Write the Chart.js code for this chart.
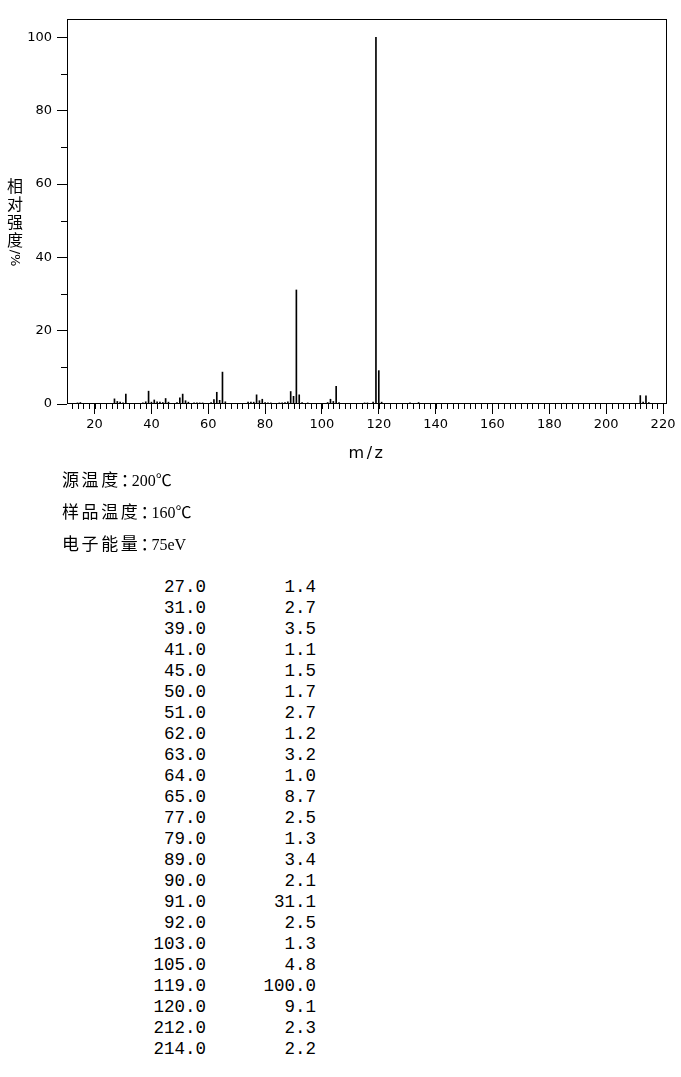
<!DOCTYPE html>
<html lang="zh">
<head>
<meta charset="UTF-8">
<title>质谱图</title>
<script src="https://cdn.jsdelivr.net/npm/chart.js@4"></script>
<style>
  * { box-sizing: border-box; margin: 0; padding: 0; }
  body { width: 681px; height: 1077px; background: #fff; color: #000; position: relative; overflow: hidden; }
  #wrap { position: absolute; left: 0; top: 0; width: 681px; height: 470px; }
  .ylab { position: absolute; left: 6px; top: 176px; width: 18px; text-align: center;
          font: 16px/18px "Noto Sans CJK SC", sans-serif; }
  .ylab .rot { display: block; height: 20px; transform: rotate(90deg); transform-origin: 50% 50%;
               font: 13px/20px "DejaVu Sans", sans-serif; white-space: nowrap; margin-left: -2px; width: 22px; }
  .xlab { position: absolute; left: 317px; width: 100px; top: 443px; text-align: center;
          font: 16px/20px "DejaVu Sans", sans-serif; letter-spacing: 2.5px; }
  .cond { position: absolute; left: 62px; white-space: nowrap; height: 20px; }
  .cond .k { font: 17px/20px "Noto Sans CJK SC", sans-serif; letter-spacing: 2.6px; }
  .cond .c { display: inline-block; width: 11px; font: 17px/20px "Noto Sans CJK SC", sans-serif; }
  .cond .v { font: 16px/20px "Liberation Serif", "Noto Sans CJK SC", serif; }
  table { position: absolute; left: 140px; top: 577px; border-collapse: collapse;
          font: 17.5px/21px "Liberation Mono", monospace; }
  td { padding: 0; text-align: right; height: 21px; }
  td.a { width: 66px; }
  td.b { width: 110px; }
</style>
</head>
<body>
<div id="wrap"><canvas id="c" width="681" height="470"></canvas></div>
<div class="ylab">相<br>对<br>强<br>度<span class="rot">/%</span></div>
<div class="xlab">m/z</div>
<div class="cond" style="top:469px"><span class="k">源温度</span><span class="c">：</span><span class="v">200℃</span></div>
<div class="cond" style="top:501px"><span class="k">样品温度</span><span class="c">：</span><span class="v">160℃</span></div>
<div class="cond" style="top:533px"><span class="k">电子能量</span><span class="c">：</span><span class="v">75eV</span></div>
<table id="peaks"></table>

<script>
// ---------- data ----------

// listed peaks (m/z, relative intensity %)
const tableMz  = [27, 31, 39, 41, 45, 50, 51, 62, 63, 64, 65, 77, 79, 89, 90, 91, 92, 103, 105, 119, 120, 212, 214];
const tableInt = [1.4, 2.7, 3.5, 1.1, 1.5, 1.7, 2.7, 1.2, 3.2, 1.0, 8.7, 2.5, 1.3, 3.4, 2.1, 31.1, 2.5, 1.3, 4.8, 100.0, 9.1, 2.3, 2.2];

// small unlisted peaks
const minorMz  = [14, 15, 28, 29, 30, 37, 38, 40, 42, 43, 44, 46, 49, 52, 53, 55, 56, 57, 58, 61, 66, 74, 75, 76, 78, 80, 81, 82, 85, 86, 87, 88, 93, 95, 102, 104, 106, 115, 116, 118, 121, 131, 134, 183, 185, 213, 215];
const minorInt = [0.3, 0.4, 0.7, 0.5, 0.3, 0.3, 0.6, 0.5, 0.6, 0.5, 0.4, 0.5, 0.4, 0.9, 0.5, 0.3, 0.3, 0.3, 0.3, 0.4, 0.6, 0.5, 0.5, 0.5, 0.9, 0.4, 0.3, 0.3, 0.3, 0.3, 0.4, 0.6, 0.4, 0.3, 0.4, 0.7, 0.4, 0.3, 0.3, 0.5, 0.5, 0.3, 0.4, 0.2, 0.2, 0.5, 0.4];

const xTicks = [20, 40, 60, 80, 100, 120, 140, 160, 180, 200, 220];
const yTicks = [0, 20, 40, 60, 80, 100];
const xMinorStep = 2;
const yMinorStep = 10;

// ---------- table ----------

document.getElementById('peaks').innerHTML = tableMz.map((m, i) =>
  `<tr><td class="a">${m.toFixed(1)}</td><td class="b">${tableInt[i].toFixed(1)}</td></tr>`).join('');

// ---------- chart ----------

const points = tableMz.map((m, i) => ({ x: m, y: tableInt[i] }))
  .concat(minorMz.map((m, i) => ({ x: m, y: minorInt[i] })))
  .sort((a, b) => a.x - b.x);

const frame = {
  id: 'frame',
  afterDraw(chart) {
    const { ctx, chartArea: a, scales: { x, y } } = chart;
    ctx.save();
    ctx.strokeStyle = '#000';
    ctx.lineWidth = 1;
    ctx.strokeRect(Math.round(a.left) + 0.5, Math.round(a.top) + 0.5,
                   Math.round(a.right - a.left) - 1, Math.round(a.bottom - a.top) - 1);
    ctx.beginPath();
    // minor ticks
    for (let v = Math.ceil(x.min / xMinorStep) * xMinorStep; v <= x.max; v += xMinorStep) {
      const px = Math.round(x.getPixelForValue(v)) + 0.5;
      ctx.moveTo(px, a.bottom); ctx.lineTo(px, a.bottom + 5);
    }
    for (let v = yMinorStep; v < y.max; v += 2 * yMinorStep) {
      const py = Math.round(y.getPixelForValue(v)) + 0.5;
      ctx.moveTo(a.left, py); ctx.lineTo(a.left - 6, py);
    }
    ctx.stroke();
    ctx.restore();
  }
};

const tickFont = { family: 'DejaVu Sans', size: 13 };

new Chart(document.getElementById('c'), {
  type: 'bar',
  data: {
    datasets: [{
      data: points,
      backgroundColor: '#000',
      barThickness: 1,
      grouped: false,
    }],
  },
  options: {
    responsive: false,
    animation: false,
    devicePixelRatio: 1,
    layout: { padding: { left: 0, right: 14, top: 19, bottom: 0 } },
    plugins: { legend: { display: false }, tooltip: { enabled: false } },
    scales: {
      x: {
        type: 'linear',
        offset: false,
        min: 10.3,
        max: 221.4,
        afterBuildTicks: s => { s.ticks = xTicks.map(v => ({ value: v })); },
        afterFit: s => { s.height = 66; },
        grid: { drawOnChartArea: false, tickLength: 10, color: '#000', offset: false },
        border: { display: false },
        ticks: { color: '#000', font: tickFont, padding: 3, maxRotation: 0, autoSkip: false },
      },
      y: {
        min: 0,
        max: 105,
        afterBuildTicks: s => { s.ticks = yTicks.map(v => ({ value: v })); },
        afterFit: s => { s.width = 67; },
        grid: { drawOnChartArea: false, tickLength: 10, color: '#000' },
        border: { display: false },
        ticks: { color: '#000', font: tickFont, padding: 5 },
      },
    },
  },
  plugins: [frame],
});
</script>
</body>
</html>
